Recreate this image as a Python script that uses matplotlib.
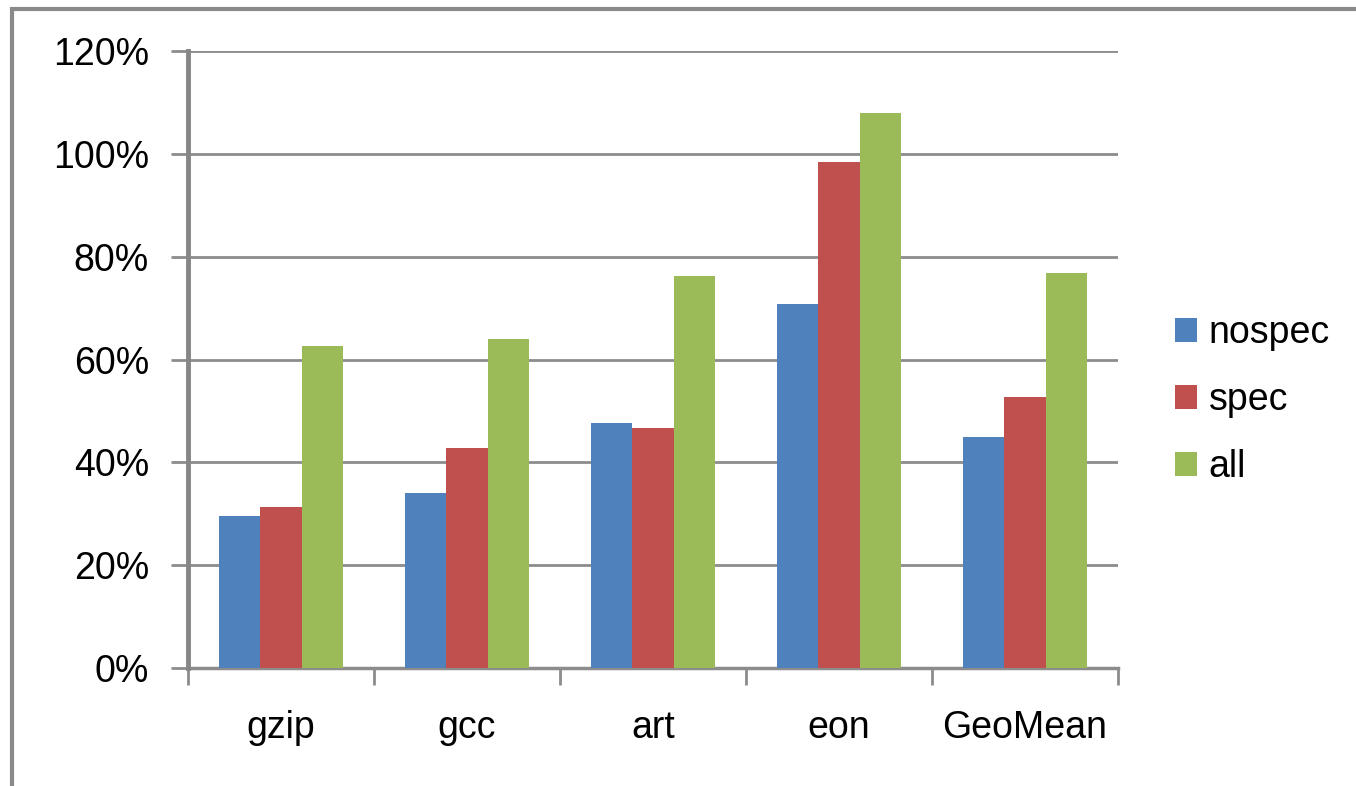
import matplotlib
matplotlib.use("Agg")
import matplotlib.pyplot as plt
import numpy as np
from matplotlib.patches import Rectangle
from matplotlib.ticker import FuncFormatter

categories = ["gzip", "gcc", "art", "eon", "GeoMean"]
series_names = ["nospec", "spec", "all"]
nospec = [29.5, 34.1, 47.6, 70.7, 44.9]
spec = [31.3, 42.8, 46.6, 98.5, 52.8]
all_vals = [62.7, 64.0, 76.3, 108.0, 76.8]
yticks = [0, 20, 40, 60, 80, 100, 120]
colors = ["#4F81BD", "#C0504D", "#9BBB59"]

plt.rcParams['font.family'] = ['Liberation Sans', 'DejaVu Sans']

fig = plt.figure(figsize=(13.56, 7.86), dpi=100)
ax = fig.add_axes([188/1356, (786-668)/786, (1118-188)/1356, (668-51)/786])

x = np.arange(len(categories))
w = 1/4.5
for i, (vals, c, name) in enumerate(zip([nospec, spec, all_vals], colors, series_names)):
    ax.bar(x + (i-1)*w, vals, width=w, color=c, label=name, zorder=3)

ax.set_xlim(-0.5, len(categories)-0.5)
ax.set_ylim(0, 120)
ax.set_yticks(yticks)
ax.yaxis.set_major_formatter(FuncFormatter(lambda v, p: f"{int(v)}%"))
ax.grid(axis='y', color='#8c8c8c', linewidth=2, zorder=0)
ax.set_xticks(x)
ax.set_xticklabels(categories)
ax.set_xticks(np.arange(len(categories)+1) - 0.5, minor=True)
ax.tick_params(axis='x', which='major', length=0, pad=30, labelsize=27)
ax.tick_params(axis='x', which='minor', length=12, width=2, color='#8c8c8c', direction='out')
ax.tick_params(axis='y', length=12, width=2, color='#8c8c8c', direction='out', pad=16, labelsize=27)

for s in ['top', 'right']:
    ax.spines[s].set_visible(False)
ax.spines['left'].set_color('#868686')
ax.spines['left'].set_linewidth(3.5)
ax.spines['bottom'].set_color('#8c8c8c')
ax.spines['bottom'].set_linewidth(2.5)
ax.spines['left'].set_zorder(4)

leg = ax.legend(loc='center left', bbox_to_anchor=(1.025, 0.434), frameon=False,
                fontsize=27, handlelength=0.6, handleheight=0.6, handletextpad=0.3,
                labelspacing=0.82)

fig.patches.append(Rectangle((12/1356, -0.1), 1.2, (786-9)/786 + 0.1, transform=fig.transFigure,
                             fill=False, edgecolor='#8a8a8a', linewidth=3))

fig.savefig("out.png", dpi=100)
